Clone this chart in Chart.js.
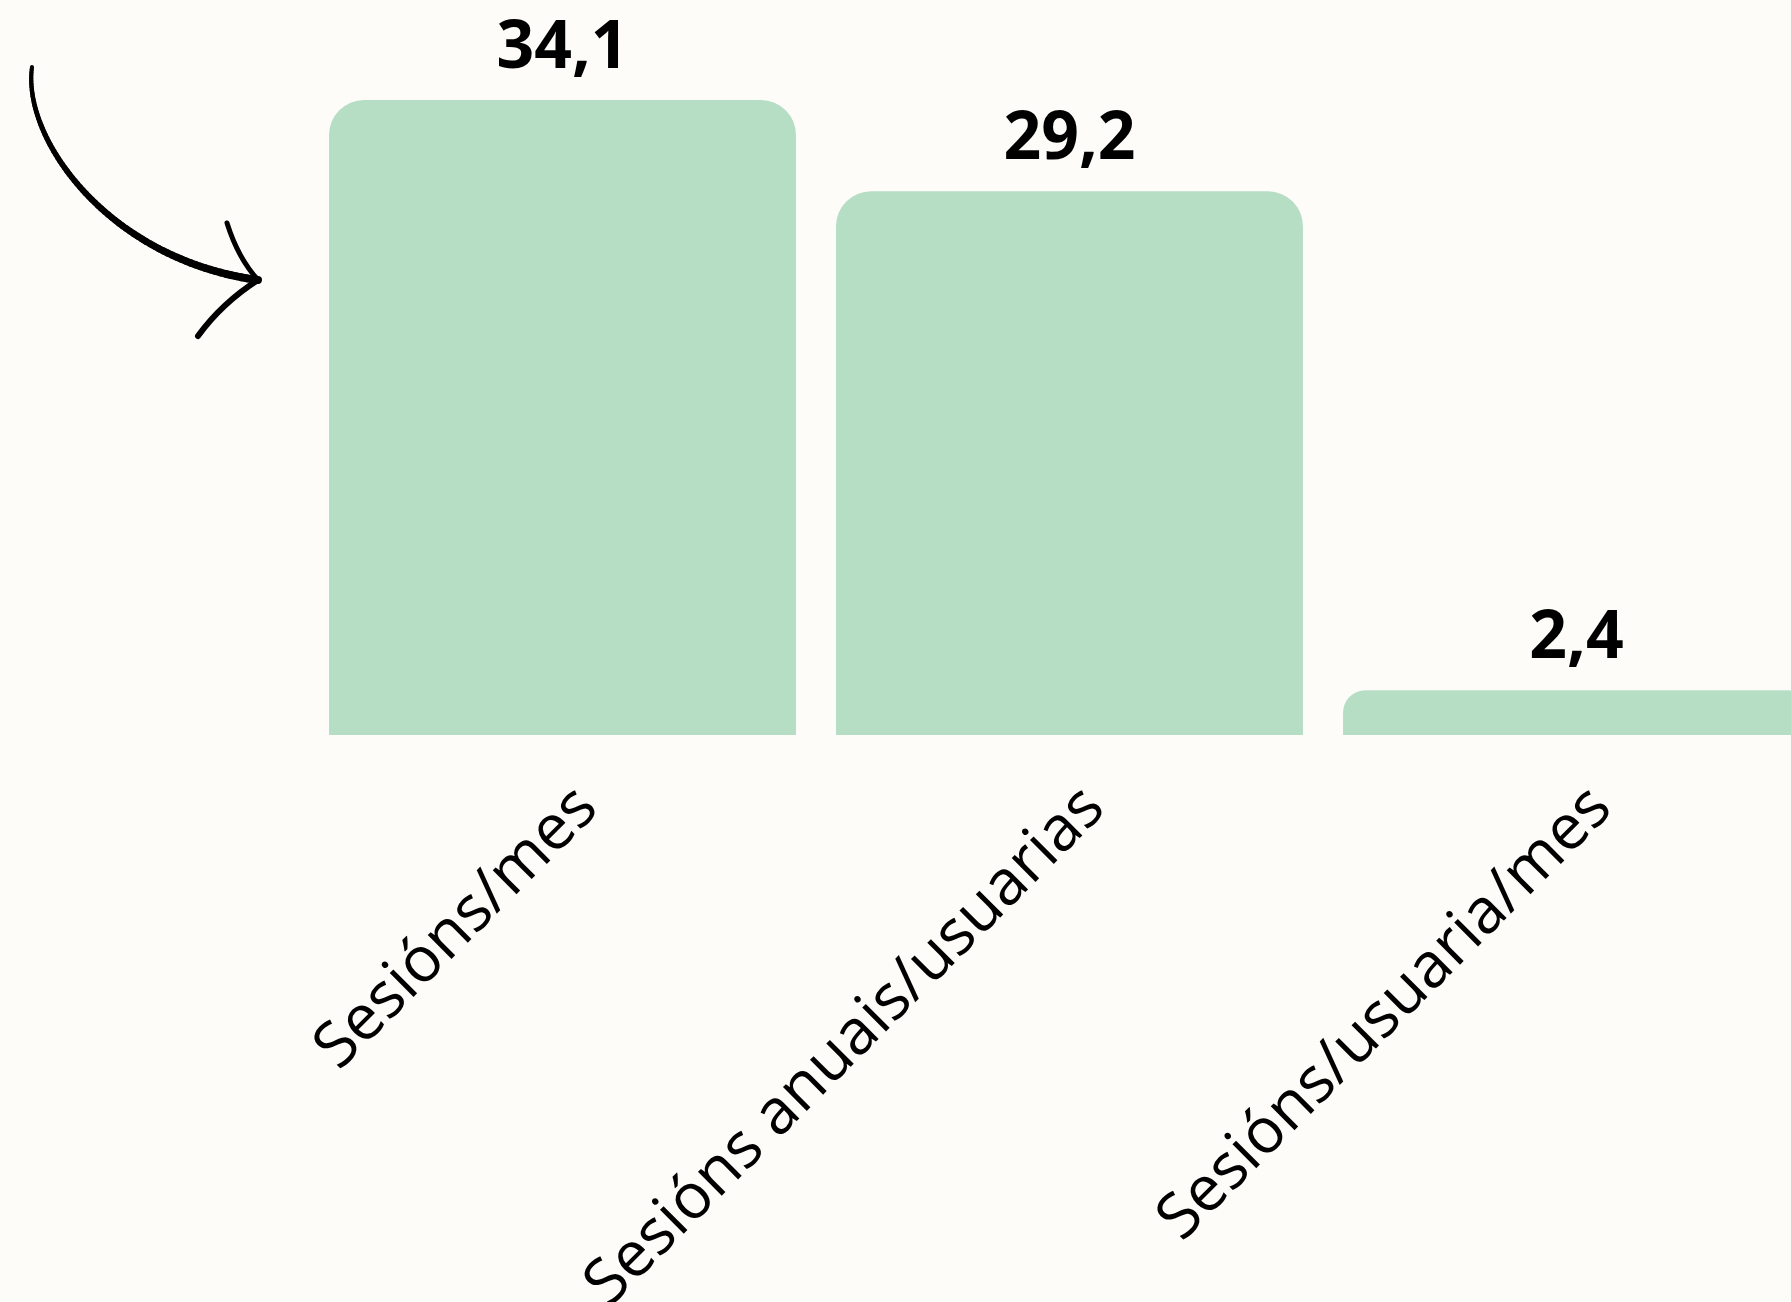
<!DOCTYPE html>
<html lang="gl">
<head>
<meta charset="UTF-8">
<title>Sesións</title>
<script src="https://cdn.jsdelivr.net/npm/chart.js"></script>
<style>
  html, body { margin: 0; padding: 0; background: #fdfcf9; overflow: hidden; }
  canvas { display: block; }
</style>
</head>
<body>
<canvas id="sessionsChart" width="1830" height="1302"></canvas>

<script>
  const categories = ['Sesións/mes', 'Sesións anuais/usuarias', 'Sesións/usuaria/mes'];
  const sessionValues = [34.1, 29.2, 2.4];

  const barColor = '#b6dec5';

  function formatValue(v) {
    return v.toFixed(1).replace('.', ',');
  }

  // value labels above each bar
  const valueLabels = {
    id: 'valueLabels',
    afterDatasetsDraw(chart) {
      const ctx = chart.ctx;
      const meta = chart.getDatasetMeta(0);
      ctx.save();
      ctx.font = '700 66px "Open Sans"';
      ctx.fillStyle = '#000';
      ctx.textAlign = 'center';
      ctx.textBaseline = 'alphabetic';
      meta.data.forEach((bar, i) => {
        ctx.fillText(formatValue(sessionValues[i]), bar.x, bar.y - 32);
      });
      ctx.restore();
    }
  };

  // hand drawn arrow on the left
  const arrow = {
    id: 'arrow',
    afterDraw(chart) {
      const ctx = chart.ctx;
      const p0 = [32, 67], p1 = [22, 140], p2 = [110, 260], p3 = [258, 280];
      const pt = t => {
        const u = 1 - t;
        return [
          u*u*u*p0[0] + 3*u*u*t*p1[0] + 3*u*t*t*p2[0] + t*t*t*p3[0],
          u*u*u*p0[1] + 3*u*u*t*p1[1] + 3*u*t*t*p2[1] + t*t*t*p3[1]
        ];
      };
      ctx.save();
      ctx.strokeStyle = '#000';
      ctx.lineCap = 'round';
      let prev = pt(0);
      const steps = 80;
      for (let i = 1; i <= steps; i++) {
        const t = i / steps;
        const cur = pt(t);
        ctx.lineWidth = 4 + 4 * t;
        ctx.beginPath();
        ctx.moveTo(prev[0], prev[1]);
        ctx.lineTo(cur[0], cur[1]);
        ctx.stroke();
        prev = cur;
      }
      ctx.lineWidth = 5;
      ctx.beginPath();
      ctx.moveTo(227, 223);
      ctx.quadraticCurveTo(238, 258, 258, 280);
      ctx.stroke();
      ctx.lineWidth = 6;
      ctx.beginPath();
      ctx.moveTo(258, 280);
      ctx.quadraticCurveTo(222, 303, 198, 336);
      ctx.stroke();
      ctx.restore();
    }
  };

  const ctx = document.getElementById('sessionsChart').getContext('2d');
  new Chart(ctx, {
    type: 'bar',
    data: {
      labels: categories,
      datasets: [{
        data: sessionValues,
        backgroundColor: barColor,
        borderRadius: { topLeft: 35, topRight: 35 },
        borderSkipped: 'start',
        barPercentage: 0.921,
        categoryPercentage: 1
      }]
    },
    options: {
      responsive: false,
      animation: false,
      layout: { padding: { left: 309, top: 100, right: 0, bottom: 0 } },
      plugins: {
        legend: { display: false },
        tooltip: { enabled: false }
      },
      scales: {
        x: {
          grid: { display: false, drawTicks: false },
          border: { display: false },
          ticks: {
            color: '#000',
            font: { family: '"Open Sans"', size: 63 },
            minRotation: 45,
            maxRotation: 45,
            autoSkip: false,
            padding: 36,
            labelOffset: 25
          },
          afterFit(scale) { scale.height = 567; }
        },
        y: {
          display: false,
          min: 0,
          max: Math.max(...sessionValues)
        }
      }
    },
    plugins: [valueLabels, arrow]
  });
</script>
</body>
</html>
